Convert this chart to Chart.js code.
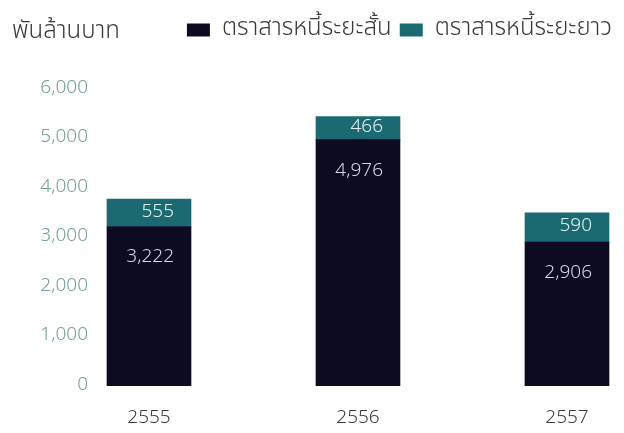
<!DOCTYPE html>
<html lang="th">
<head>
<meta charset="utf-8">
<script src="https://cdn.jsdelivr.net/npm/chart.js@4.4.1/dist/chart.umd.min.js"></script>
<style>
  html, body { margin: 0; padding: 0; background: #fff; }
  .wrap { position: relative; width: 624px; height: 433px; }
  .unit {
    position: absolute; left: 12px; top: 13px;
    font: 300 24px 'Noto Sans Thai', 'Lato', 'Noto Sans', sans-serif;
    color: #3a3a3a;
  }
</style>
</head>
<body>
<div class="wrap">
  <div class="unit">พันล้านบาท</div>
  <canvas id="debtChart"></canvas>
</div>
<script>
// ─── ข้อมูล ───
const years = ['2555', '2556', '2557'];
const shortTerm = [3222, 4976, 2906];
const longTerm = [555, 466, 590];
const seriesNames = ['ตราสารหนี้ระยะสั้น', 'ตราสารหนี้ระยะยาว'];
const yTicks = [0, 1000, 2000, 3000, 4000, 5000, 6000];

const NAVY = '#0c0b22';
const TEAL = '#1b6a72';
const FONT = "'Noto Sans Thai', 'Lato', 'Noto Sans', sans-serif";

const fmt = v => v.toLocaleString('en-US');

// ตัวเลขในแท่ง: ระยะยาวอยู่กลางช่อง, ระยะสั้นอยู่ใต้ขอบบน
const barLabels = {
  id: 'barLabels',
  afterDatasetsDraw(chart) {
    const ctx = chart.ctx;
    ctx.save();
    ctx.font = `300 19px ${FONT}`;
    ctx.textAlign = 'right';
    ctx.textBaseline = 'middle';
    chart.data.datasets.forEach((ds, di) => {
      const meta = chart.getDatasetMeta(di);
      meta.data.forEach((bar, i) => {
        const v = ds.data[i].y;
        const x = bar.x + 25;
        const y = di === 1 ? (bar.y + bar.base) / 2 : bar.y + 32;
        ctx.fillStyle = di === 1 ? '#e4f2f2' : '#d6d6e0';
        ctx.fillText(fmt(v), x, y);
      });
    });
    ctx.restore();
  }
};

const toPoints = arr => arr.map((v, i) => ({ x: i, y: v }));

new Chart(document.getElementById('debtChart'), {
  type: 'bar',
  data: {
    datasets: [
      { label: seriesNames[0], data: toPoints(shortTerm), backgroundColor: NAVY },
      { label: seriesNames[1], data: toPoints(longTerm), backgroundColor: TEAL }
    ]
  },
  options: {
    responsive: true,
    maintainAspectRatio: false,
    animation: false,
    barThickness: 84,
    layout: { padding: { top: 10, right: 4, left: 0, bottom: 0 } },
    plugins: {
      legend: {
        position: 'top',
        align: 'end',
        labels: {
          boxWidth: 23,
          boxHeight: 13,
          padding: 8,
          color: '#3a3a3a',
          font: { size: 24, family: FONT, weight: '300' }
        }
      },
      // ช่องว่างระหว่างคำอธิบายกับพื้นที่กราฟ
      title: {
        display: true,
        text: ' ',
        weight: 500,
        font: { size: 10 },
        padding: { top: 0, bottom: 25 }
      },
      tooltip: { enabled: false }
    },
    scales: {
      x: {
        type: 'linear',
        stacked: true,
        offset: false,
        min: -0.2344,
        max: 2.2536,
        grid: { display: false },
        border: { display: false },
        afterFit: scale => { scale.height = 47; },
        afterBuildTicks: scale => { scale.ticks = years.map((_, i) => ({ value: i })); },
        ticks: {
          autoSkip: false,
          maxRotation: 0,
          padding: 14,
          color: '#3a3a3a',
          font: { size: 19, family: FONT, weight: '300' },
          callback: v => years[v]
        }
      },
      y: {
        stacked: true,
        min: 0,
        max: 6000,
        grid: { display: false },
        border: { display: false },
        afterFit: scale => { scale.width = 100; },
        afterBuildTicks: scale => { scale.ticks = yTicks.map(v => ({ value: v })); },
        ticks: {
          padding: 4,
          color: '#76a098',
          font: { size: 19, family: FONT, weight: '300' },
          callback: v => fmt(v)
        }
      }
    }
  },
  plugins: [barLabels]
});
</script>
</body>
</html>
